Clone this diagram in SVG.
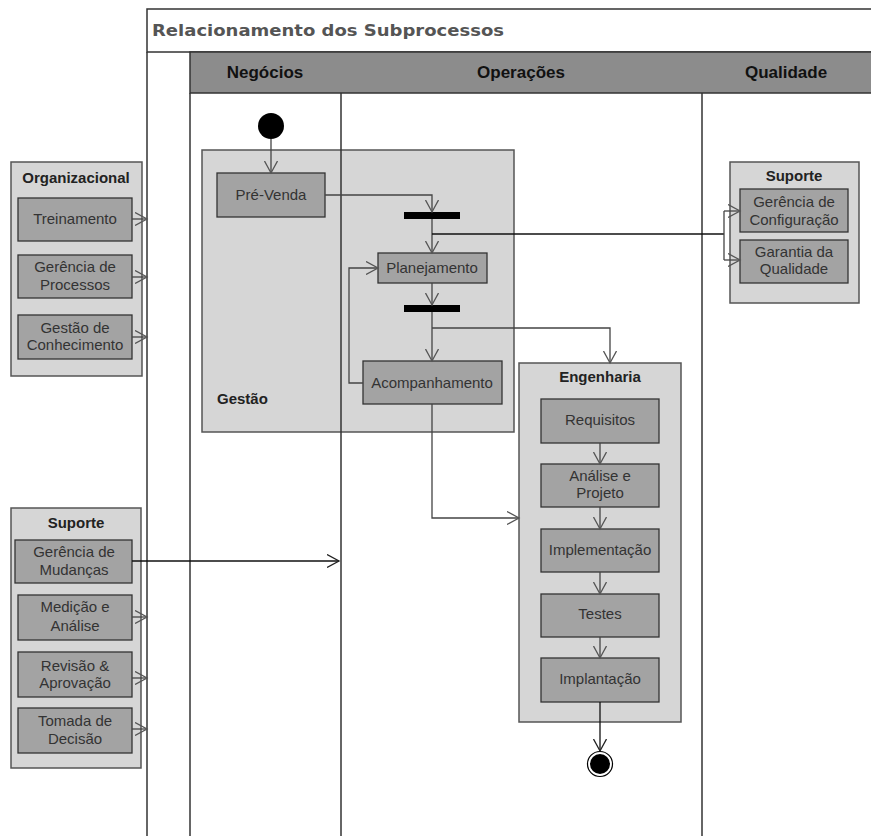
<svg xmlns="http://www.w3.org/2000/svg" width="871" height="836" viewBox="0 0 871 836">
<defs>
<style>
.outer{fill:#d6d6d6;stroke:#555;stroke-width:1.5}
.act{fill:#a3a3a3;stroke:#333;stroke-width:1.3}
.lbl{font-family:"Liberation Sans",Arial,sans-serif;font-size:15px;fill:#333;text-anchor:middle}
.ttl{font-family:"Liberation Sans",Arial,sans-serif;font-size:15px;font-weight:bold;fill:#222;text-anchor:middle}
.hdr{font-family:"Liberation Sans",Arial,sans-serif;font-size:17px;font-weight:bold;fill:#111;text-anchor:middle}
.lane{stroke:#333;stroke-width:1.5;fill:none}
.c{fill:none;stroke:#444;stroke-width:1.3}
.cb{fill:none;stroke:#111;stroke-width:1.3}
.bar{fill:#000}
</style>
<marker id="a" markerWidth="14" markerHeight="14" refX="12" refY="7" orient="auto" markerUnits="userSpaceOnUse"><path d="M0,0.5 L12,7 L0,13.5" fill="none" stroke="#555" stroke-width="1.3"/></marker>
<marker id="ab" markerWidth="14" markerHeight="14" refX="12" refY="7" orient="auto" markerUnits="userSpaceOnUse"><path d="M0,0.5 L12,7 L0,13.5" fill="none" stroke="#222" stroke-width="1.3"/></marker>
</defs>
<rect width="871" height="836" fill="#fff"/>
<g id="frame">
<rect x="147" y="9" width="740" height="43" fill="#fff" stroke="#333" stroke-width="1.5"/>
<text x="152" y="36" font-family="'DejaVu Sans',Verdana,sans-serif" font-size="16" font-weight="bold" fill="#555" textLength="352" lengthAdjust="spacingAndGlyphs">Relacionamento dos Subprocessos</text>
<rect x="190" y="52" width="697" height="41" fill="#8c8c8c" stroke="#333" stroke-width="1.5"/>
<text class="hdr" x="265" y="78">Negócios</text>
<text class="hdr" x="521" y="78">Operações</text>
<text class="hdr" x="786" y="78">Qualidade</text>
</g>
<g id="gestao">
<rect class="outer" x="202" y="150" width="312" height="282"/>
<text x="217" y="404" font-family="'Liberation Sans',Arial,sans-serif" font-size="15" font-weight="bold" fill="#222">Gestão</text>
</g>
<g id="lanes">
<line class="lane" x1="147" y1="52" x2="147" y2="836"/>
<line class="lane" x1="190" y1="93" x2="190" y2="836"/>
<line class="lane" x1="341" y1="93" x2="341" y2="836"/>
<line class="lane" x1="702" y1="93" x2="702" y2="836"/>
</g>
<g id="organizacional">
<rect class="outer" x="11" y="162" width="131" height="214"/>
<text class="ttl" x="76" y="183">Organizacional</text>
</g>
<g id="treinamento"><rect class="act" x="18" y="198" width="114" height="43"/><text class="lbl" x="75" y="224">Treinamento</text></g>
<g id="gerencia-processos"><rect class="act" x="18" y="255" width="114" height="43"/><text class="lbl" x="75" y="272">Gerência de</text><text class="lbl" x="75" y="290">Processos</text></g>
<g id="gestao-conhecimento"><rect class="act" x="18" y="315" width="114" height="44"/><text class="lbl" x="75" y="333">Gestão de</text><text class="lbl" x="75" y="350">Conhecimento</text></g>
<g id="suporte-esq">
<rect class="outer" x="11" y="508" width="130" height="260"/>
<text class="ttl" x="76" y="528">Suporte</text>
</g>
<g id="gerencia-mudancas"><rect class="act" x="15" y="540" width="117" height="43"/><text class="lbl" x="74" y="557">Gerência de</text><text class="lbl" x="74" y="575">Mudanças</text></g>
<g id="medicao"><rect class="act" x="18" y="595" width="114" height="45"/><text class="lbl" x="75" y="612">Medição e</text><text class="lbl" x="75" y="631">Análise</text></g>
<g id="revisao"><rect class="act" x="18" y="652" width="114" height="45"/><text class="lbl" x="75" y="671">Revisão &amp;</text><text class="lbl" x="75" y="688">Aprovação</text></g>
<g id="tomada"><rect class="act" x="18" y="708" width="114" height="45"/><text class="lbl" x="75" y="726">Tomada de</text><text class="lbl" x="75" y="744">Decisão</text></g>
<g id="inicio"><circle cx="271" cy="126" r="13" fill="#000"/></g>
<g id="pre-venda"><rect class="act" x="217" y="173" width="108" height="44"/><text class="lbl" x="271" y="200">Pré-Venda</text></g>
<g id="fork1"><rect class="bar" x="404" y="212" width="56" height="7"/></g>
<g id="planejamento"><rect class="act" x="378" y="253" width="109" height="30"/><text class="lbl" x="432" y="273">Planejamento</text></g>
<g id="fork2"><rect class="bar" x="404" y="305" width="56" height="7"/></g>
<g id="acompanhamento"><rect class="act" x="363" y="361" width="139" height="43"/><text class="lbl" x="432" y="388">Acompanhamento</text></g>
<g id="engenharia">
<rect class="outer" x="519" y="363" width="162" height="359"/>
<text class="ttl" x="600" y="382">Engenharia</text>
</g>
<g id="requisitos"><rect class="act" x="541" y="399" width="118" height="44"/><text class="lbl" x="600" y="425">Requisitos</text></g>
<g id="analise"><rect class="act" x="541" y="464" width="118" height="43"/><text class="lbl" x="600" y="481">Análise e</text><text class="lbl" x="600" y="498">Projeto</text></g>
<g id="implementacao"><rect class="act" x="541" y="529" width="118" height="43"/><text class="lbl" x="600" y="555">Implementação</text></g>
<g id="testes"><rect class="act" x="541" y="594" width="118" height="43"/><text class="lbl" x="600" y="619">Testes</text></g>
<g id="implantacao"><rect class="act" x="541" y="658" width="118" height="44"/><text class="lbl" x="600" y="684">Implantação</text></g>
<g id="fim"><circle cx="600" cy="764" r="12.5" fill="#fff" stroke="#000" stroke-width="1.2"/><circle cx="600" cy="764" r="10" fill="#000"/></g>
<g id="suporte-dir">
<rect class="outer" x="730" y="162" width="129" height="141"/>
<text class="ttl" x="794" y="181">Suporte</text>
</g>
<g id="gerencia-config"><rect class="act" x="740" y="189" width="108" height="43"/><text class="lbl" x="794" y="207">Gerência de</text><text class="lbl" x="794" y="225">Configuração</text></g>
<g id="garantia"><rect class="act" x="740" y="240" width="108" height="43"/><text class="lbl" x="794" y="257">Garantia da</text><text class="lbl" x="794" y="274">Qualidade</text></g>
<g id="connectors">
<path class="c" d="M132,219 H147" marker-end="url(#a)"/>
<path class="c" d="M132,277 H147" marker-end="url(#a)"/>
<path class="c" d="M132,337 H147" marker-end="url(#a)"/>
<path class="cb" d="M132,561 H339" marker-end="url(#ab)"/>
<path class="c" d="M132,617 H147" marker-end="url(#a)"/>
<path class="c" d="M132,678 H147" marker-end="url(#a)"/>
<path class="c" d="M132,729 H147" marker-end="url(#a)"/>
<path class="c" d="M271,139 V173" marker-end="url(#a)"/>
<path class="c" d="M325,195 H432 V212" marker-end="url(#a)"/>
<path class="c" d="M432,219 V253" marker-end="url(#a)"/>
<path class="cb" d="M432,234 H724"/>
<path class="c" d="M724,211 V260"/>
<path class="c" d="M724,211 H740" marker-end="url(#a)"/>
<path class="c" d="M724,260 H740" marker-end="url(#a)"/>
<path class="c" d="M432,283 V305" marker-end="url(#a)"/>
<path class="c" d="M432,312 V361" marker-end="url(#a)"/>
<path class="c" d="M432,328 H610 V363" marker-end="url(#a)"/>
<path class="c" d="M363,383 H349 V268 H378" marker-end="url(#a)"/>
<path class="c" d="M432,404 V518 H519" marker-end="url(#a)"/>
<path class="c" d="M600,443 V464" marker-end="url(#a)"/>
<path class="c" d="M600,507 V529" marker-end="url(#a)"/>
<path class="c" d="M600,572 V594" marker-end="url(#a)"/>
<path class="c" d="M600,637 V658" marker-end="url(#a)"/>
<path class="cb" d="M600,702 V751" marker-end="url(#ab)"/>
</g>
</svg>
